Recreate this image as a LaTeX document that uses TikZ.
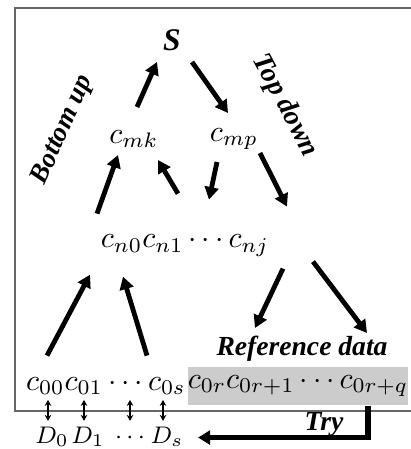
\documentclass[tikz,border=0pt]{standalone}
\usepackage{fontspec}
\newfontfamily\lblfont{Liberation Serif}
\usetikzlibrary{arrows.meta,calc}
\tikzset{
  lbl/.style={font=\lblfont\bfseries\itshape\fontsize{9.2}{11}\selectfont,inner sep=1pt},
  arr/.style={-{Triangle[length=4.2pt,width=4.6pt]},line width=1.6pt},
  dbl/.style={{Stealth[length=2pt,width=2.2pt]}-{Stealth[length=2pt,width=2.2pt]},line width=0.6pt},
  tryarr/.style={-{Triangle[length=4pt,width=4.6pt]},line width=1.8pt},
  graybox/.style={fill=gray!40,minimum width=73.3pt,minimum height=12.7pt,inner sep=0pt},
  dnode/.style={font=\footnotesize,inner sep=1pt,text height=5.5pt,text depth=1.2pt,anchor=base},
  framel/.style={draw=black!60,line width=0.5pt},
}
\begin{document}
\begin{tikzpicture}[x=0.3333pt,y=-0.3333pt]
\useasboundingbox (0,0) rectangle (411,449);
\draw[framel] (411,8) -| (15,411) -- (411,411);
% tree levels
\node[lbl,font=\lblfont\bfseries\itshape\fontsize{10.5}{12}\selectfont] (S) at (172,40) {S};
\node (cmk) at (134,139) {$c_{mk}$};
\node (cmp) at (234,139) {$c_{mp}$};
\node[anchor=base] (cn) at (185,248) {$c_{n0}c_{n1}\cdots c_{nj}$};
\node[lbl] (ref) at (302,349) {Reference data};
\node[graybox] (cr) at (298,386) {$c_{0r}c_{0r+1}\cdots c_{0r+q}$};
\node[anchor=base] (cz) at (106,390) {$c_{00}c_{01}\cdots c_{0s}$};
% side labels
\node[lbl,rotate=66,font=\lblfont\bfseries\itshape\fontsize{9}{11}\selectfont] (bu) at (63,130) {Bottom up};
\node[lbl,rotate=-62,font=\lblfont\bfseries\itshape\fontsize{9.3}{11}\selectfont] (td) at (285,106) {Top down};
% data row
\node[dnode] (D0) at (52,443) {$D_0$};
\node[dnode] (D1) at (88,443) {$D_1$};
\node[dnode] (dd) at (130,443) {$\cdots$};
\node[dnode] (Ds) at (167,443) {$D_s$};
\foreach \d/\o in {D0/-4,D1/-4,dd/0,Ds/-4}
  \draw[dbl] ($(\d.north)+(\o,-2)$) -- ++(0,-21);
% arrows between levels
\foreach \a/\ax/\ay/\b/\bx/\by in {cmk/3/-32/S/-15/22, S/20/22/cmp/-6/-26,
    cn/-88/-32/cmk/-16/16, cn/-7/-52/cmk/24/21,
    cmp/-17/23/cn/24/-46, cmp/26/14/cn/102/-39,
    cz/-59/-30/cn/-95/29, cz/41/-30/cn/-62/31,
    cn/98/23/ref/-47/-21, cn/128/16/ref/65/-16}
  \draw[arr] ($(\a)+(\ax,\ay)$) -- ($(\b)+(\bx,\by)$);
% try
\draw[tryarr] ($(cr.south)+(70,0)$) |- ($(Ds.east)+(11,1)$);
\node[lbl] (try) at (324,424) {Try};
\end{tikzpicture}
\end{document}
